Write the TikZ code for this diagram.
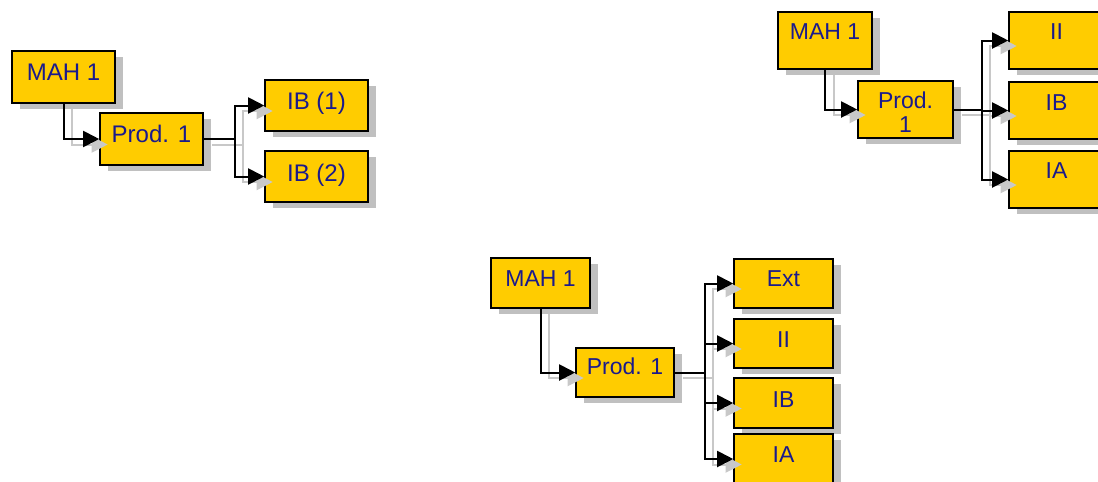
\documentclass[tikz,border=0pt]{standalone}
\usepackage{fontspec}
\setmainfont{Liberation Sans}
\usetikzlibrary{arrows.meta,shadows}
\definecolor{gold}{RGB}{255,204,0}
\definecolor{shgray}{RGB}{192,192,192}
\definecolor{lgray}{RGB}{200,200,200}
\definecolor{navy}{RGB}{26,26,140}
\tikzset{
 box/.style={draw=black, line width=1.6pt, fill=gold, inner sep=0pt,
   drop shadow={shadow xshift=7.5pt, shadow yshift=-6pt, fill=shgray, opacity=1, draw=none}},
 txt/.style={text=navy, inner sep=0pt, font=\fontsize{23}{27}\selectfont, text height=16.5pt, text depth=0pt},
 txtA/.style={txt, font=\fontsize{24}{28}\selectfont, text height=17.2pt},
 conn/.style={line width=2pt, -{Triangle[length=16pt,width=16pt]}},
 sconn/.style={conn, draw=lgray, transform canvas={xshift=8.5pt,yshift=-5.5pt}},
}
\begin{document}
\begin{tikzpicture}[x=1pt,y=-1pt]
\useasboundingbox (0,0) rectangle (1098,482);
\clip (0,0) rectangle (1098,482);
% ---------- group 1 ----------
\node[box, minimum width=103, minimum height=52, label={[txtA,yshift=5pt]center:MAH 1}] (m1) at (63.5,77) {};
\node[box, minimum width=103, minimum height=52, label={[txtA,yshift=5pt]center:Prod. 1}] (p1) at (151.5,139) {};
\node[box, minimum width=103, minimum height=51, label={[txtA,yshift=4.5pt]center:IB (1)}] (ib1) at (316.5,105.5) {};
\node[box, minimum width=103, minimum height=51, label={[txtA,yshift=4pt]center:IB (2)}] (ib2) at (316.5,176.5) {};
% ---------- group 2 ----------
\node[box, minimum width=94, minimum height=57, label={[txt,yshift=9.5pt]center:MAH 1}] (m2) at (825,40.5) {};
\node[box, minimum width=95, minimum height=57, label={[txt,yshift=9.5pt]center:Prod.}, label={[txt,yshift=-14.5pt]center:1}] (p2) at (905.5,109.5) {};
\node[box, minimum width=95, minimum height=57, label={[txt,yshift=9.5pt]center:II}] (ii2) at (1056.5,40.5) {};
\node[box, minimum width=95, minimum height=57, label={[txt,yshift=8pt]center:IB}] (ibb) at (1056.5,110.5) {};
\node[box, minimum width=95, minimum height=57, label={[txt,yshift=9pt]center:IA}] (ia2) at (1056.5,179.5) {};
% ---------- group 3 ----------
\node[box, minimum width=99, minimum height=50, label={[txt,yshift=4.7pt]center:MAH 1}] (m3) at (540.5,283) {};
\node[box, minimum width=98, minimum height=49, label={[txt,yshift=6pt]center:Prod. 1}] (p3) at (625,372.5) {};
\node[box, minimum width=99, minimum height=49, label={[txt,yshift=5pt]center:Ext}] (ext) at (783.5,283.5) {};
\node[box, minimum width=99, minimum height=49, label={[txt,yshift=4.5pt]center:II}] (ii3) at (783.5,343.5) {};
\node[box, minimum width=99, minimum height=50, label={[txt,yshift=4pt]center:IB}] (ib3) at (783.5,403) {};
\node[box, minimum width=99, minimum height=50, label={[txt,yshift=5pt]center:IA}] (ia3) at (783.5,459) {};
% ---------- connectors (shadow first, then black) ----------
\foreach \s in {sconn,conn}{
  \draw[\s] (m1.south) |- (p1.west);
  \draw[\s] (p1.east) -- ([xshift=31pt]p1.east) |- (ib1.west);
  \draw[\s] ([xshift=31pt]p1.east) |- (ib2.west);
  \draw[\s] (m2.south) |- (p2.west);
  \draw[\s] (p2.east) -- ([xshift=28pt]p2.east) |- (ii2.west);
  \draw[\s] ([xshift=28pt]p2.east) |- (ibb.west);
  \draw[\s] ([xshift=28pt]p2.east) |- (ia2.west);
  \draw[\s] (m3.south) |- (p3.west);
  \draw[\s] (p3.east) -- ([xshift=30pt]p3.east) |- (ext.west);
  \draw[\s] ([xshift=30pt]p3.east) |- (ii3.west);
  \draw[\s] ([xshift=30pt]p3.east) |- (ib3.west);
  \draw[\s] ([xshift=30pt]p3.east) |- (ia3.west);
}
\end{tikzpicture}
\end{document}
